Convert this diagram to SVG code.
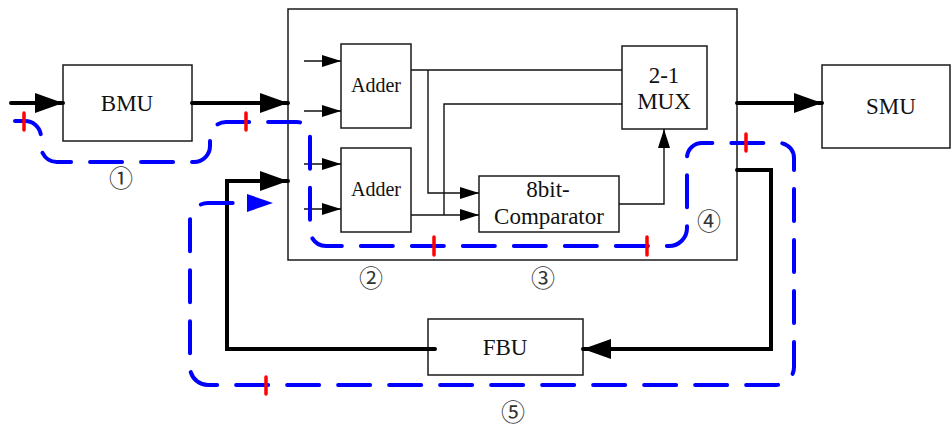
<svg xmlns="http://www.w3.org/2000/svg" width="952" height="430" viewBox="0 0 952 430">
<style>
.box{fill:#fff;stroke:#1a1a1a;stroke-width:1.5}
.lbl{font-family:"Liberation Serif","Times New Roman",serif;font-size:23px;fill:#111;text-anchor:middle}
.sm{font-size:20px}
.thin{fill:none;stroke:#111;stroke-width:1.4}
.thick{fill:none;stroke:#000;stroke-width:4;stroke-linecap:round}
.loop{fill:none;stroke:#0000ff;stroke-width:4;stroke-dasharray:32 19;stroke-linecap:round}
.tick{stroke:#ff0000;stroke-width:3.5;stroke-linecap:round}
.num{font-family:"Noto Sans CJK SC","DejaVu Sans",sans-serif;font-size:24px;fill:#333;text-anchor:middle}
</style>
<defs>
<marker id="big" markerWidth="28" markerHeight="20" refX="28" refY="10" orient="auto" markerUnits="userSpaceOnUse"><path d="M0,0 L28,10 L0,20 Z" fill="#000"/></marker>
<marker id="small" markerWidth="19" markerHeight="12" refX="19" refY="6" orient="auto" markerUnits="userSpaceOnUse"><path d="M0,0 L19,6 L0,12 Z" fill="#000"/></marker>
</defs>

<g id="main-block"><rect class="box" x="288" y="9" width="449" height="251"/></g>
<g id="bmu"><rect class="box" x="63" y="65" width="129" height="76"/><text class="lbl" x="127" y="111">BMU</text></g>
<g id="smu"><rect class="box" x="822" y="65" width="128" height="83"/><text class="lbl" x="891" y="114">SMU</text></g>
<g id="adder1"><rect class="box" x="341" y="44" width="70" height="84"/><text class="lbl sm" x="376" y="92">Adder</text></g>
<g id="adder2"><rect class="box" x="341" y="148" width="70" height="84"/><text class="lbl sm" x="376" y="196">Adder</text></g>
<g id="mux"><rect class="box" x="622" y="46" width="85" height="83"/><text class="lbl" x="664" y="83">2-1</text><text class="lbl" x="664" y="109">MUX</text></g>
<g id="comparator"><rect class="box" x="479" y="176" width="140" height="56"/><text class="lbl" x="548" y="197">8bit-</text><text class="lbl" x="549" y="224">Comparator</text></g>
<g id="fbu"><rect class="box" x="428" y="319" width="155" height="56"/><text class="lbl" x="505" y="355">FBU</text></g>

<g id="connectors">
<path class="thick" d="M11,103 H63" marker-end="url(#big)"/>
<path class="thick" d="M192,103 H288" marker-end="url(#big)"/>
<path class="thick" d="M737,103 H822" marker-end="url(#big)"/>
<path class="thick" d="M737,170 H771 V349 H583" marker-end="url(#big)"/>
<path class="thick" d="M435,349 H227 V181 H288" marker-end="url(#big)"/>
<path class="thin" d="M304,61 H341" marker-end="url(#small)"/>
<path class="thin" d="M304,111 H341" marker-end="url(#small)"/>
<path class="thin" d="M304,164 H341" marker-end="url(#small)"/>
<path class="thin" d="M304,209 H341" marker-end="url(#small)"/>
<path class="thin" d="M411,70 H622"/>
<path class="thin" d="M428,70 V193 H479" marker-end="url(#small)"/>
<path class="thin" d="M622,104 H444 V215"/>
<path class="thin" d="M411,215 H479" marker-end="url(#small)"/>
<path class="thin" d="M619,204 H664 V129" marker-end="url(#small)"/>
</g>

<g id="loop">
<path class="loop" d="M15,121 H25 A16,16 0 0 1 41,137 V146 A16,16 0 0 0 57,162 H194 A16,16 0 0 0 210,146 V138 A16,16 0 0 1 226,122 H297 A13,13 0 0 1 310,135 V230 A16,16 0 0 0 326,246 H669 A18,18 0 0 0 687,228 V158 A15,15 0 0 1 702,143 H779 A15,15 0 0 1 794,158 V367 A18,18 0 0 1 776,385 H208 A18,18 0 0 1 190,367 V221 A18,18 0 0 1 208,203 H250"/>
<path d="M247,194 L273,203 L247,212 Z" fill="#0000ff"/>
<line class="tick" x1="24" y1="113" x2="24" y2="130"/>
<line class="tick" x1="246" y1="113" x2="246" y2="130"/>
<line class="tick" x1="434" y1="237" x2="434" y2="255"/>
<line class="tick" x1="647" y1="237" x2="647" y2="255"/>
<line class="tick" x1="746" y1="134" x2="746" y2="151"/>
<line class="tick" x1="266" y1="377" x2="266" y2="394"/>
</g>

<g id="labels">
<text class="num" x="121" y="187">①</text>
<text class="num" x="371" y="287">②</text>
<text class="num" x="543" y="287">③</text>
<text class="num" x="709" y="230">④</text>
<text class="num" x="513" y="421">⑤</text>
</g>
</svg>
